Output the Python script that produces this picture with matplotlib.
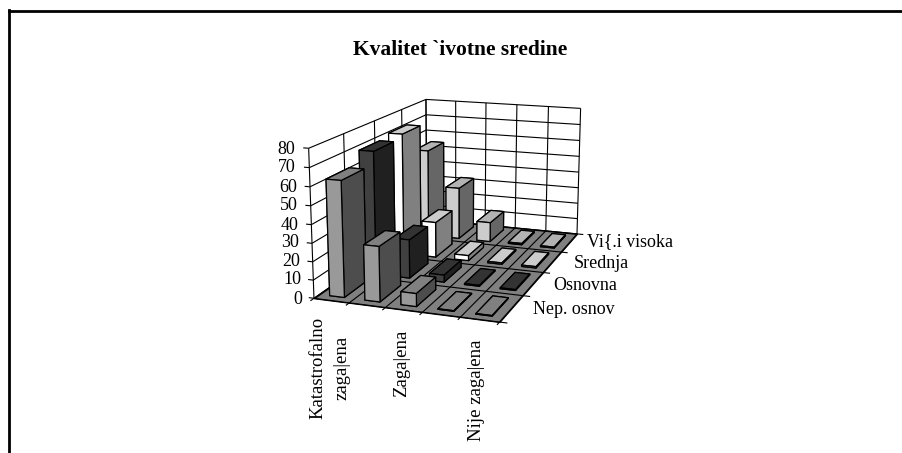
import numpy as np
import matplotlib
matplotlib.use('Agg')
import matplotlib.pyplot as plt
from mpl_toolkits.mplot3d.art3d import Poly3DCollection

plt.rcParams['font.family'] = ['Liberation Serif', 'DejaVu Serif']

# data, one list per series, columns follow the category slots
series_names = ['Nep. osnov', 'Osnovna', 'Srednja', 'Vi{.i visoka']
nep_osnov = [63, 30, 7, 0.3, 0.3]
osnovna = [70, 22, 4, 0.5, 0.5]
srednja = [72, 21, 3, 0.8, 0.8]
visi = [54, 32, 12, 0.8, 0.6]
z_ticks = [0, 10, 20, 30, 40, 50, 60, 70, 80]

# front, right side, top colour for every series
face_colors = [('#999999', '#4d4d4d', '#808080'),
               ('#404040', '#202020', '#333333'),
               ('#ffffff', '#808080', '#cccccc'),
               ('#cccccc', '#666666', '#b3b3b3')]
floor_color = '#808080'
bar_w = 0.42
bar_d = 0.68

W, H = 903, 453
fig = plt.figure(figsize=(W / 100, H / 100), dpi=100)
side = 355.5
ax = fig.add_axes([(453.0 - side / 2) / W, (252.33 - side / 2) / H, side / W, side / H], projection='3d')
ax.set_xlim(0, 5, view_margin=0)
ax.set_ylim(0, 4, view_margin=0)
ax.set_zlim(0, 80, view_margin=0)
ax.view_init(14.38, -70.35)
ax.set_proj_type('persp', focal_length=0.555)
ax.set_box_aspect((0.7744, 1.2397, 0.6102))
ax.set_axis_off()
ax.patch.set_alpha(0)
ax.computed_zorder = False

nx, ny = len(nep_osnov), len(series_names)
zmax = z_ticks[-1]


def line(xs, ys, zs, z=1, lw=0.8):
    ax.plot(xs, ys, zs, color='black', lw=lw, zorder=z, solid_capstyle='butt')


# walls
for v in z_ticks:
    line([0, 0], [0, ny], [v, v])
    line([0, nx], [ny, ny], [v, v])
    line([-0.15, 0], [0, 0], [v, v])
for j in range(ny + 1):
    line([0, 0], [j, j], [0, zmax])
for i in range(nx + 1):
    line([i, i], [ny, ny], [0, zmax])

# floor
floor = Poly3DCollection([[(0, 0, 0), (nx, 0, 0), (nx, ny, 0), (0, ny, 0)]],
                         facecolors=floor_color, edgecolors='black', linewidths=0.8, zorder=2)
ax.add_collection3d(floor)
for i in range(nx + 1):
    line([i, i], [-0.1, ny], [0, 0], z=3)
for j in range(ny + 1):
    line([0, nx + 0.2], [j, j], [0, 0], z=3)

# bars, back row first and left to right inside a row
rows = [nep_osnov, osnovna, srednja, visi]
order = 4
for j in range(ny - 1, -1, -1):
    front, right, top = face_colors[j]
    for i in range(nx):
        ax.bar3d(i + (1 - bar_w) / 2, j + (1 - bar_d) / 2, 0, bar_w, bar_d, rows[j][i],
                 color=[floor_color, top, front, front, front, right],
                 shade=False, edgecolor='black', linewidth=0.9, zorder=order)
        order += 1


# text
def label(px, py, s, **kw):
    fig.text(px / W, 1 - py / H, s, **kw)


label(460.5, 50, 'Kvalitet `ivotne sredine', fontsize=15.5, fontweight='bold', ha='center', va='center')
z_y = [299, 280, 262, 243, 225, 205, 187, 168, 149]
for v, y in zip(z_ticks, z_y):
    label(302 - 7 * v / 80, y, str(v), fontsize=13, ha='right', va='center')
label(615, 310, series_names[0], fontsize=13, ha='right', va='center')
label(617, 285, series_names[1], fontsize=13, ha='right', va='center')
label(629, 263, series_names[2], fontsize=13, ha='right', va='center')
label(673, 242, series_names[3], fontsize=13, ha='right', va='center')
label(318, 367.5, 'Katastrofalno', fontsize=13.5, rotation=90, ha='center', va='center')
label(342, 368, 'zaga|ena', fontsize=13.5, rotation=90, ha='center', va='center')
label(402, 363.5, 'Zaga|ena', fontsize=13.5, rotation=90, ha='center', va='center')
label(477, 390, 'Nije zaga|ena', fontsize=13.5, rotation=90, ha='center', va='center')

# page frame
fig.add_artist(plt.Line2D([9.5 / W, 9.5 / W], [0, 1 - 10 / H], color='black', lw=2))
fig.add_artist(plt.Line2D([8.5 / W, 1], [1 - 11.3 / H, 1 - 11.3 / H], color='black', lw=2))

fig.savefig('out.png', dpi=100)
